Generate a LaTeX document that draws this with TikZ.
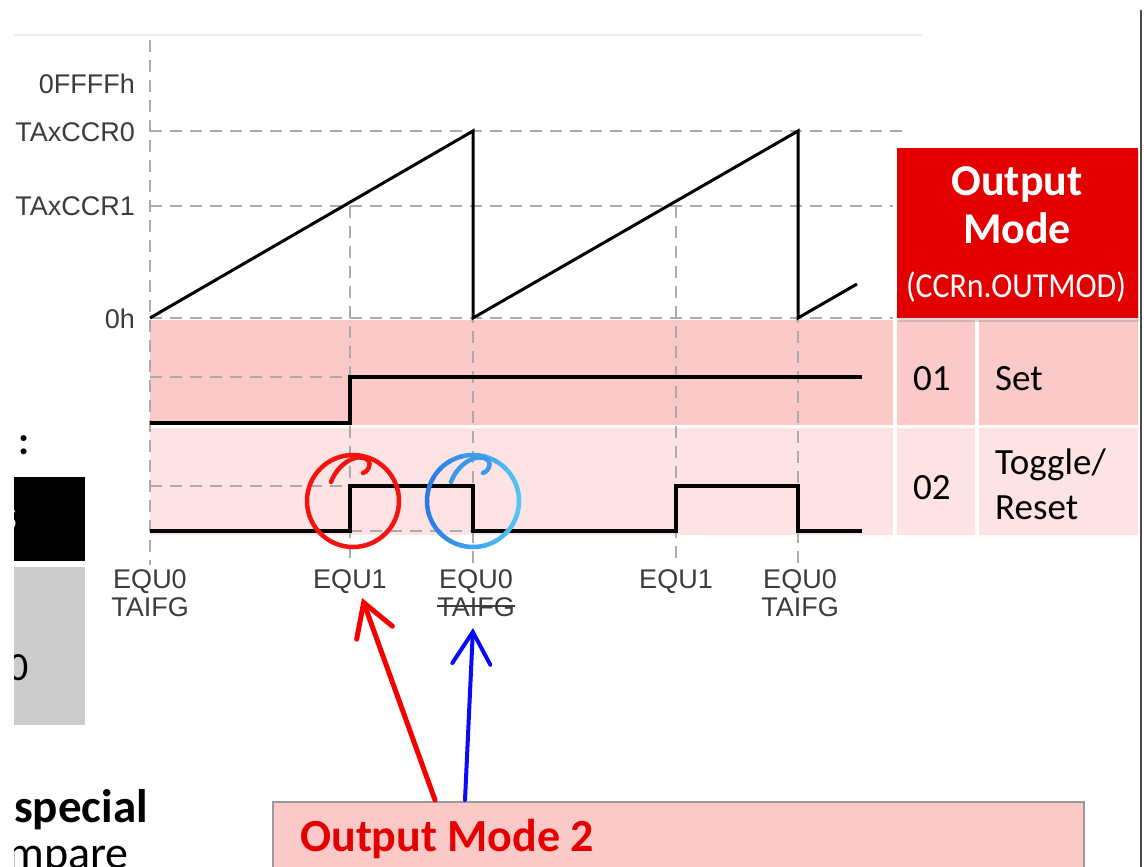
\documentclass[tikz,border=0pt]{standalone}
\usepackage{fontspec}
\setmainfont{Carlito}
\newfontfamily\arialf{Liberation Sans}
\usetikzlibrary{arrows.meta,shadows}
\definecolor{bandA}{HTML}{FCC9C9}
\definecolor{bandB}{HTML}{FDE3E3}
\definecolor{gridc}{HTML}{ABABAB}
\definecolor{labc}{HTML}{3C3C3C}
\definecolor{boxred}{HTML}{E30000}
\definecolor{circred}{HTML}{F2140F}
\definecolor{blueA}{HTML}{2C7BE5}
\definecolor{blueB}{HTML}{52C6F2}
\definecolor{arrred}{HTML}{F50000}
\definecolor{arrblue}{HTML}{0A0AF5}
\definecolor{greyc}{HTML}{CCCCCC}
\definecolor{bordc}{HTML}{9A9A9A}
\definecolor{edgec}{HTML}{4A4A4A}
\definecolor{topc}{HTML}{EDEDED}
\tikzset{
  gridline/.style={draw=gridc, line width=1.3pt, dash pattern=on 12pt off 8pt},
  saw/.style={draw=black, line width=3pt, line join=miter},
  sig/.style={draw=black, line width=4pt, line join=miter},
  axlab/.style={anchor=base east, inner sep=0pt, text=labc, font=\arialf\fontsize{27}{32}\selectfont},
  evlab/.style={anchor=base, inner sep=0pt, text=labc, font=\arialf\fontsize{27}{32}\selectfont},
  celltext/.style={anchor=base west, inner sep=0pt, text=black, font=\fontsize{37}{41}\selectfont},
  headtext/.style={anchor=base, inner sep=0pt, text=white, font=\bfseries\fontsize{44}{48}\selectfont},
  handline/.style={line width=4.5pt, line cap=round, line join=round},
  bigarrow/.style={line cap=round, -{Straight Barb[length=32pt, width=38pt, line cap=round]}},
}
\begin{document}
\begin{tikzpicture}[x=1pt,y=-1pt]
\useasboundingbox (0,0) rectangle (1144,867);
\clip (0,0) rectangle (1144,867);

% frame lines of the screenshot
\draw[topc, line width=2pt] (14,35) -- (922,35);
\draw[edgec, line width=2.5pt] (1141,10) -- (1141,867);

% pink bands
\fill[bandA] (150,320) rectangle (893,425);
\fill[bandB] (150,428) rectangle (893,535);
\fill[bandA] (897,320) rectangle (975,425);
\fill[bandA] (979,320) rectangle (1138,425);
\fill[bandB] (897,428) rectangle (975,535);
\fill[bandB] (979,428) rectangle (1138,535);

% grid
\draw[gridline] (150,40) -- (150,565);
\draw[gridline] (350,206) -- (350,565);
\draw[gridline] (473,131) -- (473,565);
\draw[gridline] (676,206) -- (676,565);
\draw[gridline] (798,131) -- (798,565);
\draw[gridline] (150,131) -- (907,131);
\draw[gridline] (150,206) -- (893,206);
\draw[gridline] (150,318) -- (893,318);
\draw[gridline] (150,377) -- (350,377);
\draw[gridline] (150,486) -- (350,486);
\draw[gridline] (350,531) -- (473,531);

% axis labels
\node[axlab] (l0ffff) at (135,94) {0FFFFh};
\node[axlab] (lccr0) at (135,141) {TAxCCR0};
\node[axlab] (lccr1) at (135,215) {TAxCCR1};
\node[axlab] (l0h) at (135,328) {0h};

% sawtooth
\draw[saw] (150,318) -- (473,131) -- (473,318) -- (798,131) -- (798,318) -- (857,284);

% output signals
\draw[sig] (150,423) -- (350,423) -- (350,377) -- (862,377);
\draw[sig] (150,531) -- (350,531) -- (350,486) -- (473,486) -- (473,531)
  -- (676,531) -- (676,486) -- (798,486) -- (798,531) -- (862,531);

% event labels
\node[evlab] (e1a) at (150,588) {EQU0};
\node[evlab] (e1b) at (150,616) {TAIFG};
\node[evlab] (e2a) at (350,588) {EQU1};
\node[evlab] (e3a) at (476,588) {EQU0};
\node[evlab] (e3b) at (476,616) {TAIFG};
\draw[labc, line width=1.3pt] (e3b.west |- 0,606) -- (e3b.east |- 0,606);
\node[evlab] (e4a) at (676,588) {EQU1};
\node[evlab] (e5a) at (800,588) {EQU0};
\node[evlab] (e5b) at (800,616) {TAIFG};

% hand-drawn circles
\coordinate (rc) at (353,501);
\draw[circred, handline] (rc) circle[radius=46pt];
\draw[circred, handline] (331,482) .. controls (338,463) and (358,452) .. (368,460)
  .. controls (372,464) and (368,472) .. (363,473);
\coordinate (bc) at (473,501);
\foreach \a in {0,15,...,345}{
  \pgfmathsetmacro\m{50+50*cos(\a+8)}
  \draw[blueB!\m!blueA, handline] ([shift={(\a:46pt)}]bc) arc[start angle=\a, end angle=\a+16, radius=46pt];
}
\draw[blueA!60!blueB, handline] (451,482) .. controls (458,463) and (478,452) .. (488,460)
  .. controls (492,464) and (488,472) .. (483,473);

% output mode header
\node (omhead) [fill=boxred, drop shadow={shadow xshift=1pt, shadow yshift=-4pt, opacity=0.3},
  minimum width=241pt, minimum height=170pt, inner sep=0pt, anchor=north west] at (897,148) {};
\node[headtext] (h1) at (1017,195) {Output};
\node[headtext] (h2) at (1017,243) {Mode};
\node[anchor=base, inner sep=0pt, text=white, font=\fontsize{35}{38}\selectfont] (h3) at (1016,297) {\scalebox{0.91}[1]{(CCRn.OUTMOD)}};

% table texts
\node[celltext] (c01) at (913,390) {01};
\node[celltext] (cset) at (995,390) {Set};
\node[celltext] (c02) at (913,499) {02};
\node[celltext] (ctog) at (995,474) {Toggle/};
\node[celltext] (cres) at (995,519) {Reset};

% left cut-off page content
\begin{scope}
\clip (14,0) rectangle (1144,867);
\node[inner sep=0pt, font=\bfseries\fontsize{40}{44}\selectfont] (colon) at (24,445) {:};
\fill[black] (14,477) rectangle (85,561);
\node[inner sep=0pt, text=white, font=\bfseries\fontsize{44}{48}\selectfont] (sfrag) at (8,520) {s};
\fill[greyc] (14,567) rectangle (85,725);
\node[inner sep=0pt, font=\fontsize{40}{44}\selectfont] (zfrag) at (19,668) {0};
\node[anchor=base west, inner sep=0pt, font=\bfseries\fontsize{47}{50}\selectfont] (special) at (14,822) {special};
\node[anchor=base west, inner sep=0pt, font=\fontsize{46}{50}\selectfont] (compare) at (-36,868) {compare};
\end{scope}

% bottom box
\node (m2box) [fill=bandA, draw=bordc, line width=1.5pt, anchor=north west,
  minimum width=811pt, minimum height=120pt, inner sep=0pt] at (272,801) {};
\node[anchor=base west, inner sep=0pt, text=boxred, font=\bfseries\fontsize{46}{50}\selectfont] (m2txt) at (300,851) {Output Mode 2};

% arrows
\coordinate (rtail) at (435,800);
\coordinate (rtip) at (362,598);
\coordinate (btail) at (465,800);
\coordinate (btip) at (473,628);
\draw[arrred, line width=5pt, bigarrow] (rtail) -- (rtip);
\draw[arrblue, line width=4pt, bigarrow] (btail) -- (btip);
\end{tikzpicture}
\end{document}
